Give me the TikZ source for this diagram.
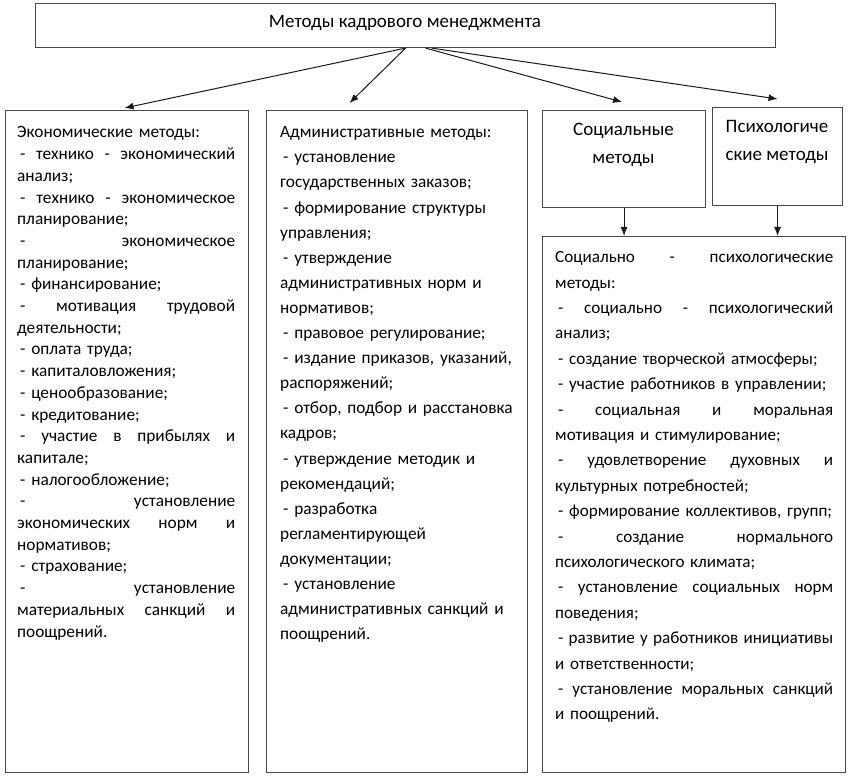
\documentclass[tikz,border=0pt]{standalone}
\usepackage{fontspec}
\setmainfont{Carlito}
\usetikzlibrary{arrows.meta,calc}
\newcommand{\JLine}[1]{\makebox[\hsize][s]{\spaceskip=\fontdimen2\font plus 1fil\relax #1}}
\newcommand{\Ds}{\hspace*{3pt}-}
\begin{document}
\begin{tikzpicture}[x=1pt,y=-1pt,
  box/.style={draw=black!72, line width=1.1pt, inner sep=0pt, anchor=north west},
  txt/.style={anchor=north west, inner sep=0pt, align=left},
  ctr/.style={inner sep=0pt, align=center, font=\fontsize{19}{28}\selectfont},
  arr/.style={-{Latex[length=9pt,width=7pt]}, line width=1pt, draw=black!90}]
\useasboundingbox (0,0) rectangle (849,778);
% boxes
\node[box, minimum width=740pt, minimum height=44pt] (top) at (35,3) {};
\node[font=\fontsize{19}{22}\selectfont, inner sep=0pt] (toptext) at (405,23) {Методы кадрового менеджмента};
\node[box, minimum width=243pt, minimum height=662pt] (eco) at (5,110) {};
\node[box, minimum width=261pt, minimum height=662pt] (adm) at (266,110) {};
\node[box, minimum width=163pt, minimum height=97pt] (soc) at (542,110) {};
\node[box, minimum width=130pt, minimum height=98pt] (psy) at (712,107) {};
\node[box, minimum width=303pt, minimum height=536pt] (sp) at (542,236) {};
% texts
\node[ctr] (soct) at (623.5,145) {Социальные\\методы};
\node[ctr] (psyt) at (777,142) {Психологиче\\ские методы};
\node[txt, text width=218pt, font=\fontsize{17.3}{21.7}\selectfont] (ecot) at (17,126.5) {%
Экономические методы:\\
\JLine{\Ds{} технико - экономический}\\
анализ;\\
\JLine{\Ds{} технико - экономическое}\\
планирование;\\
\JLine{\Ds{} экономическое}\\
планирование;\\
\Ds{} финансирование;\\
\JLine{\Ds{} мотивация трудовой}\\
деятельности;\\
\Ds{} оплата труда;\\
\Ds{} капиталовложения;\\
\Ds{} ценообразование;\\
\Ds{} кредитование;\\
\JLine{\Ds{} участие в прибылях и}\\
капитале;\\
\Ds{} налогообложение;\\
\JLine{\Ds{} установление}\\
\JLine{экономических норм и}\\
нормативов;\\
\Ds{} страхование;\\
\JLine{\Ds{} установление}\\
\JLine{материальных санкций и}\\
поощрений.};
\node[txt, text width=240pt, font=\fontsize{17.3}{25.1}\selectfont] (admt) at (280,126.5) {%
Административные методы:\\
\Ds{} установление\\
государственных заказов;\\
\Ds{} формирование структуры\\
управления;\\
\Ds{} утверждение\\
административных норм и\\
нормативов;\\
\Ds{} правовое регулирование;\\
\Ds{} издание приказов, указаний,\\
распоряжений;\\
\Ds{} отбор, подбор и расстановка\\
кадров;\\
\Ds{} утверждение методик и\\
рекомендаций;\\
\Ds{} разработка\\
регламентирующей\\
документации;\\
\Ds{} установление\\
административных санкций и\\
поощрений.};
\node[txt, text width=278pt, font=\fontsize{17.1}{25.4}\selectfont] (spt) at (555,251.5) {%
\JLine{Социально - психологические}\\
методы:\\
\JLine{\Ds{} социально - психологический}\\
анализ;\\
\Ds{} создание творческой атмосферы;\\
\Ds{} участие работников в управлении;\\
\JLine{\Ds{} социальная и моральная}\\
мотивация и стимулирование;\\
\JLine{\Ds{} удовлетворение духовных и}\\
культурных потребностей;\\
\Ds{} формирование коллективов, групп;\\
\JLine{\Ds{} создание нормального}\\
психологического климата;\\
\JLine{\Ds{} установление социальных норм}\\
поведения;\\
\JLine{\Ds{} развитие у работников инициативы}\\
и ответственности;\\
\JLine{\Ds{} установление моральных санкций}\\
и поощрений.};
% arrows
\draw[arr] (top.south) -- ([xshift=-2.5pt,yshift=2pt]eco.north);
\draw[arr] (top.south) -- ([xshift=-47.5pt,yshift=7pt]adm.north);
\draw[arr] ([xshift=20pt]top.south) -- ([xshift=-2pt,yshift=8pt]soc.north);
\draw[arr] ([xshift=26pt]top.south) -- ([yshift=8pt]psy.north);
\draw[arr] (soc.south) -- (soc.south |- sp.north);
\draw[arr] (psy.south) -- (psy.south |- sp.north);
\end{tikzpicture}
\end{document}
